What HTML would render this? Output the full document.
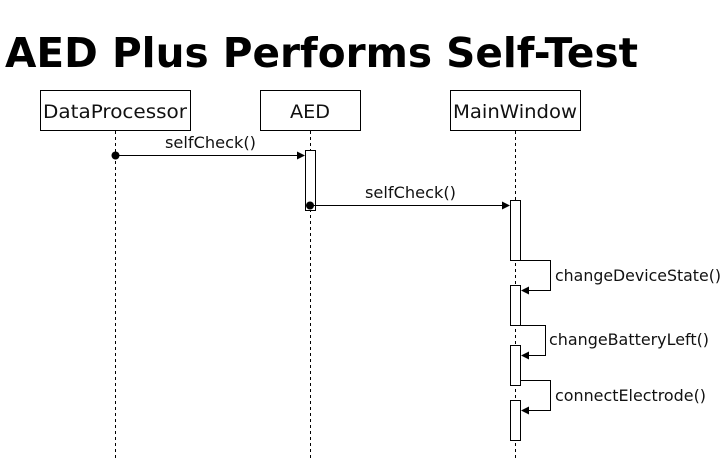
<!DOCTYPE html>
<html><head><meta charset="utf-8"><style>html,body{margin:0;padding:0;background:#fff}svg{display:block}</style></head>
<body>
<svg width="723" height="461" xmlns="http://www.w3.org/2000/svg" font-family="DejaVu Sans, Verdana, sans-serif">
<rect width="723" height="461" fill="#fff"/>
<text x="5" y="67" font-size="41" font-weight="bold" textLength="633" lengthAdjust="spacingAndGlyphs">AED Plus Performs Self-Test</text>
<g stroke="#000" stroke-width="1" fill="#fff">
<rect x="40.5" y="90.5" width="150" height="40"/>
<rect x="260.5" y="90.5" width="100" height="40"/>
<rect x="450.5" y="90.5" width="130" height="40"/>
</g>
<g font-size="19" fill="#111">
<text x="43" y="118" textLength="144" lengthAdjust="spacingAndGlyphs">DataProcessor</text>
<text x="290" y="118" textLength="40" lengthAdjust="spacingAndGlyphs">AED</text>
<text x="453" y="118" textLength="124" lengthAdjust="spacingAndGlyphs">MainWindow</text>
</g>
<g stroke="#000" stroke-dasharray="3,3">
<line x1="115.5" y1="131" x2="115.5" y2="461"/>
<line x1="310.5" y1="131" x2="310.5" y2="461"/>
<line x1="515.5" y1="131" x2="515.5" y2="461"/>
</g>
<g stroke="#000" fill="#fff">
<rect x="305.5" y="150.5" width="10" height="60"/>
<rect x="510.5" y="200.5" width="10" height="60"/>
<rect x="510.5" y="285.5" width="10" height="40"/>
<rect x="510.5" y="345.5" width="10" height="40"/>
<rect x="510.5" y="400.5" width="10" height="40"/>
</g>
<g stroke="#000" fill="none">
<line x1="115" y1="155.5" x2="298" y2="155.5"/>
<line x1="310" y1="205.5" x2="503" y2="205.5"/>
<polyline points="520,260.5 550.5,260.5 550.5,290.5 528,290.5"/>
<polyline points="520,325.5 545.5,325.5 545.5,355.5 528,355.5"/>
<polyline points="520,380.5 550.5,380.5 550.5,410.5 528,410.5"/>
</g>
<g fill="#000">
<circle cx="115.5" cy="155.5" r="4"/>
<circle cx="310" cy="205.5" r="4"/>
<polygon points="305,155.5 297,151.5 297,159.5"/>
<polygon points="510,205.5 502,201.5 502,209.5"/>
<polygon points="521,290.5 529,286.5 529,294.5"/>
<polygon points="521,355.5 529,351.5 529,359.5"/>
<polygon points="521,410.5 529,406.5 529,414.5"/>
</g>
<g font-size="16" fill="#111">
<text x="165" y="148" textLength="91" lengthAdjust="spacingAndGlyphs">selfCheck()</text>
<text x="365" y="198" textLength="91" lengthAdjust="spacingAndGlyphs">selfCheck()</text>
<text x="555" y="281" textLength="166" lengthAdjust="spacingAndGlyphs">changeDeviceState()</text>
<text x="549" y="345" textLength="160" lengthAdjust="spacingAndGlyphs">changeBatteryLeft()</text>
<text x="555" y="401" textLength="151" lengthAdjust="spacingAndGlyphs">connectElectrode()</text>
</g>
</svg>
</body></html>
